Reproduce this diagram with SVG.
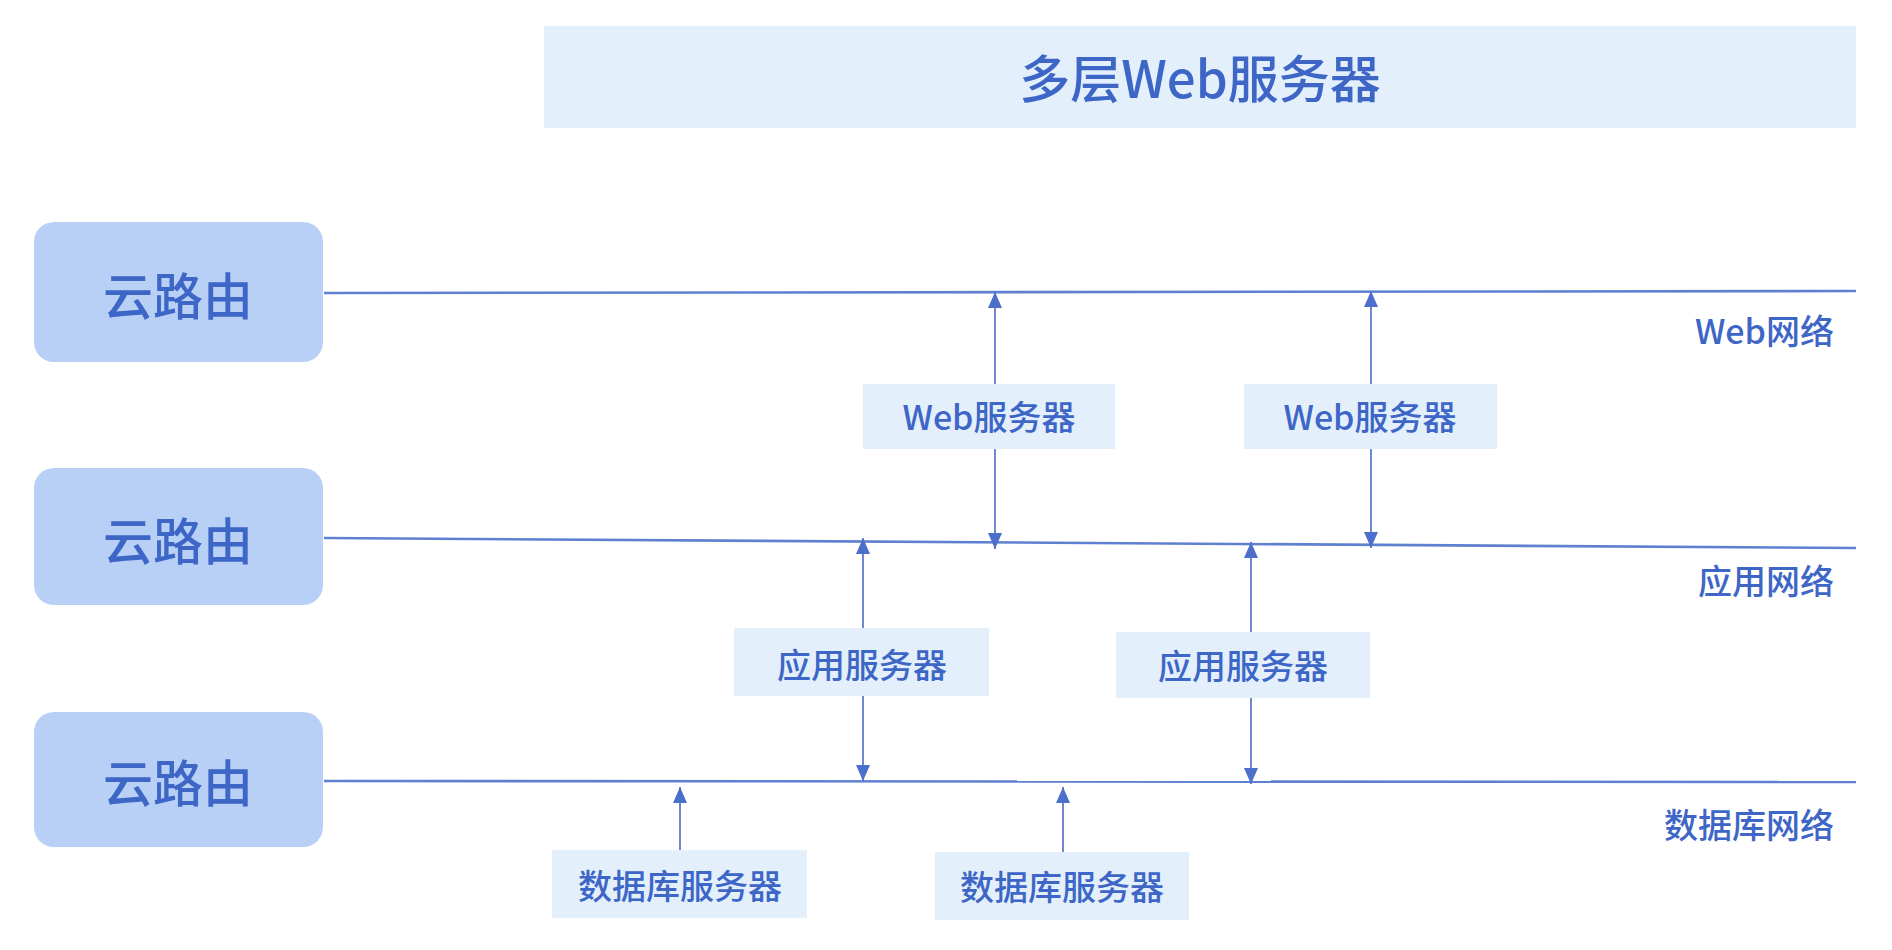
<svg xmlns="http://www.w3.org/2000/svg" width="1892" height="950" viewBox="0 0 1892 950">
<style>
.bg{fill:#ffffff}
.title-box{fill:#E3F0FC}
.router{fill:#B8D0F5}
.server{fill:#E3F0FC}
.t{font-family:"Noto Sans CJK SC","Noto Sans",sans-serif;fill:#3D66C7;text-anchor:middle;font-weight:500}
.net{font-family:"Noto Sans CJK SC","Noto Sans",sans-serif;fill:#3D66C7;text-anchor:end;font-size:34px;font-weight:500}
.bus{stroke:#5F80D0;stroke-width:2.6;fill:none}
.arr{stroke:#5673CC;stroke-width:1.7;fill:none;marker-end:url(#ah)}
</style>
<defs>
<marker id="ah" viewBox="0 0 16 14" refX="16" refY="7" markerWidth="16" markerHeight="14" markerUnits="userSpaceOnUse" orient="auto">
<path d="M0,0 L16,7 L0,14 z" fill="#4D6FCC"/>
</marker>
</defs>
<rect class="bg" x="0" y="0" width="1892" height="950"/>
<g id="title">
<rect class="title-box" x="544" y="26" width="1312" height="102"/>
<text class="t" x="1200" y="98" font-size="51">多层Web服务器</text>
</g>
<g id="connectors">
<line class="bus" x1="324" y1="293" x2="1856" y2="291"/>
<line class="bus" x1="324" y1="538" x2="1856" y2="548"/>
<line class="bus" x1="324" y1="781" x2="1856" y2="782"/>
<line class="arr" x1="995" y1="384" x2="995" y2="292"/>
<line class="arr" x1="1371" y1="384" x2="1371" y2="291"/>
<line class="arr" x1="995" y1="449" x2="995" y2="549"/>
<line class="arr" x1="1371" y1="449" x2="1371" y2="548"/>
<line class="arr" x1="863" y1="628" x2="863" y2="538"/>
<line class="arr" x1="1251" y1="632" x2="1251" y2="542"/>
<line class="arr" x1="863" y1="696" x2="863" y2="781"/>
<line class="arr" x1="1251" y1="698" x2="1251" y2="784"/>
<line class="arr" x1="680" y1="850" x2="680" y2="787"/>
<line class="arr" x1="1063" y1="852" x2="1063" y2="787"/>
</g>
<g id="router1">
<rect class="router" x="34" y="222" width="289" height="140" rx="20"/>
<text class="t" x="178" y="315" font-size="50">云路由</text>
</g>
<g id="router2">
<rect class="router" x="34" y="468" width="289" height="137" rx="20"/>
<text class="t" x="178" y="560" font-size="50">云路由</text>
</g>
<g id="router3">
<rect class="router" x="34" y="712" width="289" height="135" rx="20"/>
<text class="t" x="178" y="802" font-size="50">云路由</text>
</g>
<g id="web-server-1">
<rect class="server" x="863" y="384" width="252" height="65"/>
<text class="t" x="989" y="430" font-size="34">Web服务器</text>
</g>
<g id="web-server-2">
<rect class="server" x="1244" y="384" width="253" height="65"/>
<text class="t" x="1370" y="430" font-size="34">Web服务器</text>
</g>
<g id="app-server-1">
<rect class="server" x="734" y="628" width="255" height="68"/>
<text class="t" x="862" y="678" font-size="34">应用服务器</text>
</g>
<g id="app-server-2">
<rect class="server" x="1116" y="632" width="254" height="66"/>
<text class="t" x="1243" y="679" font-size="34">应用服务器</text>
</g>
<g id="db-server-1">
<rect class="server" x="552" y="850" width="255" height="68"/>
<text class="t" x="680" y="899" font-size="34">数据库服务器</text>
</g>
<g id="db-server-2">
<rect class="server" x="935" y="852" width="254" height="68"/>
<text class="t" x="1062" y="900" font-size="34">数据库服务器</text>
</g>
<g id="network-labels">
<text class="net" x="1834" y="344">Web网络</text>
<text class="net" x="1834" y="594">应用网络</text>
<text class="net" x="1834" y="838">数据库网络</text>
</g>
</svg>
